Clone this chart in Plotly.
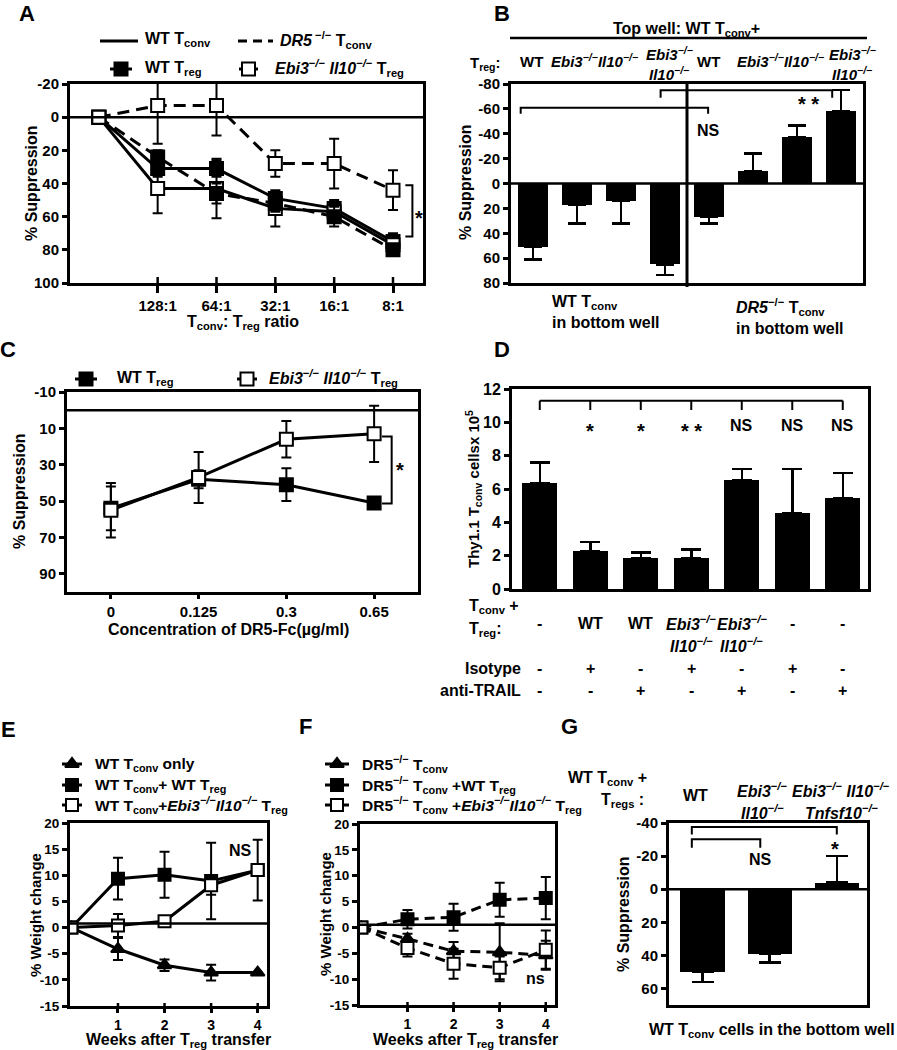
import plotly.graph_objects as go

W, H = 897, 1050
FONT = "Liberation Sans, Arial, Helvetica, sans-serif"
SUP = "<sup>−/−</sup>"
EBI = "<i>Ebi3" + SUP + "</i>"
IL10 = "<i>Il10" + SUP + "</i>"

# ======================= DATA =======================
# Panel A : % suppression vs Tconv:Treg ratio
ratio_labels = ["", "128:1", "64:1", "32:1", "16:1", "8:1"]
a_wtconv_wttreg = [0, 31, 31, 49, 55, 75]
a_wtconv_wttreg_err = [0, 5, 5, 4, 5, 5]
a_wtconv_kotreg = [0, 43, 43, 55, 57, 77]
a_wtconv_kotreg_err = [0, 15, 18, 11, 6, 5]
a_dr5conv_wttreg = [0, 24, 46, 52, 60, 80]
a_dr5conv_wttreg_err = [0, 4, 6, 5, 6, 3]
a_dr5conv_kotreg = [0, -7, -7, 28, 28, 44]
a_dr5conv_kotreg_err = [0, 23, 18, 8, 15, 12]
a_yticks = [-20, 0, 20, 40, 60, 80, 100]

# Panel B : transwell suppression
b_values = [51, 17, 14, 65, 27, -10, -37, -58]
b_err = [10, 15, 18, 8.5, 5, 14, 9.5, 17]
b_yticks = [-80, -60, -40, -20, 0, 20, 40, 60, 80]

# Panel C : DR5-Fc concentration
conc_labels = ["0", "0.125", "0.3", "0.65"]
c_wttreg = [54, 38, 41, 51]
c_wttreg_err = [12, 5, 9, 0]
c_kotreg = [55, 37, 16, 13]
c_kotreg_err = [15, 14, 10, 15.5]
c_yticks = [-10, 10, 30, 50, 70, 90]

# Panel D : Thy1.1 Tconv cell numbers
d_values = [6.35, 2.26, 1.86, 1.86, 6.55, 4.55, 5.45]
d_err = [1.23, 0.57, 0.34, 0.5, 0.64, 2.64, 1.5]
d_treg_line1 = ["-", "WT", "WT", EBI, EBI, "-", "-"]
d_treg_line2 = ["", "", "", IL10, IL10, "", ""]
d_isotype = ["-", "+", "-", "+", "-", "+", "-"]
d_antitrail = ["-", "-", "+", "-", "+", "-", "+"]
d_sig = ["", "*", "*", "**", "NS", "NS", "NS"]
d_yticks = [0, 2, 4, 6, 8, 10, 12]

# Panel E : weight change, WT Tconv
weeks = [0, 1, 2, 3, 4]
week_ticks = [1, 2, 3, 4]
e_conv_only = [0, -4.1, -7.2, -8.6, -8.6]
e_conv_only_err = [0, 2.1, 1.1, 1.5, 0]
e_wttreg = [0, 9.35, 10.1, 8.9, 11]
e_wttreg_err = [0, 4, 4.4, 7.3, 5.8]
e_kotreg = [0, 0.4, 1.2, 8.1, 11]
e_kotreg_err = [0, 2.2, 0.4, 1.8, 0]
ef_yticks = [-15, -10, -5, 0, 5, 10, 15, 20]

# Panel F : weight change, DR5-/- Tconv
f_conv_only = [0, -2.2, -4.6, -4.8, -5.4]
f_conv_only_err = [0, 1.0, 1.8, 5.6, 2.8]
f_wttreg = [0, 1.57, 1.96, 5.35, 5.67]
f_wttreg_err = [0, 1.8, 2.6, 3.3, 4.1]
f_kotreg = [0, -4.0, -7.0, -7.8, -4.3]
f_kotreg_err = [0, 1.6, 2.9, 2.2, 3.7]

# Panel G : transwell suppression with Tnfsf10-/-
g_values = [50, 39, -4]
g_err = [6, 5.3, 16]
g_yticks = [-40, -20, 0, 20, 40, 60]

# ======================= HELPERS =======================
def fx(p):
    return p / W


def fy(p):
    return 1 - p / H


def fnt(size):
    return dict(family=FONT, size=size, color="black", weight="bold")


fig = go.Figure()
annotations = []
shapes = []
T = 16  # default text size


def ann(text, x, y, size=T, xref="paper", yref="paper", xanchor="center",
        yanchor="middle", angle=0, yshift=0, align="center"):
    annotations.append(dict(
        text=text, x=fx(x) if xref == "paper" else x,
        y=fy(y) if yref == "paper" else y, xref=xref, yref=yref,
        showarrow=False, xanchor=xanchor, yanchor=yanchor, textangle=angle,
        yshift=yshift, align=align, font=fnt(size)))


def star(text, x, y, xa, ya, size=20):
    ann(text, x, y, size=size, xref=xa, yref=ya, yshift=-5)


def nz(err):
    return [e if e else None for e in err]


def series(x, y, err, xa, ya, filled, symbol="square", dash="solid", size=13):
    fig.add_trace(go.Scatter(
        x=x, y=y, xaxis=xa, yaxis=ya, mode="lines+markers",
        line=dict(color="black", width=3, dash=dash),
        marker=dict(symbol=symbol, size=size, color="black" if filled else "white",
                    line=dict(color="black", width=2)),
        error_y=dict(type="data", array=nz(err), visible=True, color="black",
                     thickness=2, width=5),
        hoverinfo="skip"))


def bars(vals, errs, xa, ya, width, capw):
    up = [e if v >= 0 else 0 for v, e in zip(vals, errs)]
    dn = [0 if v >= 0 else e for v, e in zip(vals, errs)]
    fig.add_trace(go.Bar(
        x=list(range(len(vals))), y=vals, xaxis=xa, yaxis=ya, width=width,
        marker=dict(color="black", line=dict(width=0)),
        error_y=dict(type="data", symmetric=False, array=up, arrayminus=dn,
                     color="black", thickness=2.5, width=capw),
        hoverinfo="skip"))


def path(xs, ys, xa, ya, width=2, dash="solid"):
    fig.add_trace(go.Scatter(
        x=xs, y=ys, xaxis=xa, yaxis=ya, mode="lines", cliponaxis=False,
        line=dict(color="black", width=width, dash=dash), hoverinfo="skip"))


def vbracket(x, y0, y1, dx, xa, ya):
    path([x - dx, x, x, x - dx], [y0, y0, y1, y1], xa, ya)


def hbracket(x0, x1, y, dy, xa, ya):
    path([x0, x0, x1, x1], [y + dy, y, y, y + dy], xa, ya)


def marker(x, y, filled, symbol="square", size=13):
    fig.add_trace(go.Scatter(
        x=[x], y=[y], xaxis="x8", yaxis="y8", mode="markers", cliponaxis=False,
        marker=dict(symbol=symbol, size=size, color="black" if filled else "white",
                    line=dict(color="black", width=2)), hoverinfo="skip"))


def legend_item(x0, x1, y, text, tx, ty, filled=None, symbol="square",
                dash="solid", size=13, fsize=16):
    path([x0, x1], [y, y], "x8", "y8", width=3, dash=dash)
    if filled is not None:
        marker((x0 + x1) / 2, y, filled, symbol, size)
    ann(text, tx, ty, size=fsize, xanchor="left")


def hline(y, xa, ya, width=2.5):
    shapes.append(dict(type="line", xref=xa + " domain", yref=ya, x0=0, x1=1,
                       y0=y, y1=y, line=dict(color="black", width=width)))


def inner_ticks(vals, xa, ya, frac):
    for v in vals:
        shapes.append(dict(type="line", xref=xa, yref=ya + " domain", x0=v, x1=v,
                           y0=0, y1=frac, line=dict(color="black", width=2.5)))


def axis(domain_px, rng, horizontal, tickvals=None, ticktext=None, size=14,
         ticklen=5, anchor=None, showticks=True):
    if horizontal:
        dom = [fx(domain_px[0]), fx(domain_px[1])]
    else:
        dom = [fy(domain_px[1]), fy(domain_px[0])]
    d = dict(domain=dom, range=rng, showline=True, linewidth=3, linecolor="black",
             mirror=True, showgrid=False, zeroline=False, fixedrange=True,
             tickfont=fnt(size), tickcolor="black", tickwidth=2.5, ticklen=ticklen,
             anchor=anchor)
    if showticks and tickvals is not None:
        d.update(ticks="outside", tickmode="array", tickvals=tickvals,
                 ticktext=ticktext if ticktext is not None else [str(v) for v in tickvals])
    else:
        d.update(ticks="", showticklabels=False)
    return d


# ======================= PANEL A =======================
a_x = list(range(len(ratio_labels)))
series(a_x, a_wtconv_wttreg, a_wtconv_wttreg_err, "x", "y", True)
series(a_x, a_wtconv_kotreg, a_wtconv_kotreg_err, "x", "y", False)
series(a_x, a_dr5conv_wttreg, a_dr5conv_wttreg_err, "x", "y", True, dash="12px,7px")
series(a_x, a_dr5conv_kotreg, a_dr5conv_kotreg_err, "x", "y", False, dash="12px,7px")
hline(0, "x", "y")
inner_ticks(a_x[1:], "x", "y", 6 / 199)
vbracket(5.33, 41, 72, 0.12, "x", "y")
star("*", 5.45, 58, "x", "y")

legend_item(100, 138, 41, "WT T<sub>conv</sub>", 143, 40)
legend_item(238, 273, 41, "<i>DR5</i><sup> −/−</sup> T<sub>conv</sub>", 278, 40, dash="9px,6px")
legend_item(110, 132, 69, "WT T<sub>reg</sub>", 143, 68, filled=True)
legend_item(239, 258, 69, "<i>Ebi3<sup>−/−</sup> Il10<sup>−/−</sup></i> T<sub>reg</sub>", 273, 68, filled=False)
ann("% Suppression", 32, 183, size=16, angle=-90)
ann("T<sub>conv</sub>: T<sub>reg</sub> ratio", 243, 322, size=16)
ann("A", 27, 14, size=22)

# ======================= PANEL B =======================
bars(b_values, b_err, "x2", "y2", 0.7, 9)
hline(0, "x2", "y2")
shapes.append(dict(type="line", xref="x2", yref="y2 domain", x0=3.5, x1=3.5, y0=-0.02,
                   y1=1, line=dict(color="black", width=3)))
hbracket(-0.28, 3.98, -61, 5, "x2", "y2")
hbracket(2.9, 6.8, -75, 6, "x2", "y2")
ann("NS", 3.98, -43, size=16, xref="x2", yref="y2")
star("* *", 6.25, -68, "x2", "y2")
ann("Top well: WT T<sub>conv</sub>+", 686, 29)
shapes.append(dict(type="line", xref="paper", yref="paper", x0=fx(510), x1=fx(867),
                   y0=fy(38), y1=fy(38), line=dict(color="black", width=2.5)))
ann("T<sub>reg</sub>:", 485, 63, size=15)
ann("WT", 531, 62, size=15)
ann(EBI + IL10, 594, 61, size=15)
ann(EBI, 669, 54, size=15)
ann(IL10, 669, 73, size=15)
ann("WT", 708, 62, size=15)
ann(EBI + IL10, 780, 61, size=15)
ann(EBI, 852, 54, size=15)
ann(IL10, 852, 73, size=15)
ann("WT T<sub>conv</sub><br>in bottom well", 550, 312, xanchor="left", align="left")
ann("<i>DR5</i><sup>−/−</sup> T<sub>conv</sub><br>in bottom well", 734, 316, xanchor="left", align="left")
ann("% Suppression", 465, 182, size=16, angle=-90)
ann("B", 502, 13, size=22)

# ======================= PANEL C =======================
c_x = list(range(len(conc_labels)))
series(c_x, c_wttreg, c_wttreg_err, "x3", "y3", True)
series(c_x, c_kotreg, c_kotreg_err, "x3", "y3", False)
hline(0, "x3", "y3")
vbracket(3.2, 14.5, 51.3, 0.11, "x3", "y3")
star("*", 3.3, 30, "x3", "y3")
legend_item(75, 97, 379, "WT T<sub>reg</sub>", 115, 378, filled=True)
legend_item(237, 257, 379, "<i>Ebi3<sup>−/−</sup> Il10<sup>−/−</sup></i> T<sub>reg</sub>", 267, 378, filled=False)
ann("% Suppression", 19, 491, size=16, angle=-90)
ann("Concentration of DR5-Fc(µg/ml)", 228, 629, size=16)
ann("C", 8, 350, size=22)

# ======================= PANEL D =======================
bars(d_values, d_err, "x4", "y4", 0.69, 10)
d_x = list(range(len(d_values)))
d_level, d_tick = 11.3, 0.56
bx, by = [d_x[0], d_x[-1], None], [d_level, d_level, None]
for i in d_x:
    bx += [i, i, None]
    by += [d_level, d_level - d_tick, None]
path(bx, by, "x4", "y4")
for i, s in enumerate(d_sig):
    if s.startswith("*"):
        star(" ".join(s), i, 9.8, "x4", "y4")
    elif s:
        ann(s, i, 9.8, size=16, xref="x4", yref="y4")
ann("T<sub>conv</sub> +", 467, 606, xanchor="left")
ann("T<sub>reg</sub>:", 467, 629, xanchor="left")
for i in d_x:
    ann(d_treg_line1[i], i, 623, xref="x4")
    if d_treg_line2[i]:
        ann(d_treg_line2[i], i, 645, xref="x4")
    ann(d_isotype[i], i, 668, xref="x4")
    ann(d_antitrail[i], i, 690, xref="x4")
ann("Isotype", 523, 668, xanchor="right")
ann("anti-TRAIL", 523, 690, xanchor="right")
ann("Thy1.1 T<sub>conv</sub> cellsx 10<sup>5</sup>", 473, 489, size=15, angle=-90)
ann("D", 502, 350, size=22)

# ======================= PANEL E =======================
series(weeks, e_conv_only, e_conv_only_err, "x5", "y5", True, symbol="triangle-up", size=12)
series(weeks, e_wttreg, e_wttreg_err, "x5", "y5", True, size=12)
series(weeks, e_kotreg, e_kotreg_err, "x5", "y5", False, size=12)
hline(0.8, "x5", "y5")
inner_ticks(week_ticks, "x5", "y5", 3 / 183)
vbracket(4.48, 12.8, -6.9, 0.22, "x5", "y5")
star("*", 4.63, 2.4, "x5", "y5")
ann("NS", 3.64, 14.8, size=16, xref="x5", yref="y5")
legend_item(62, 82, 764, "WT T<sub>conv</sub> only", 93, 764, filled=True,
            symbol="triangle-up", size=12, fsize=15.5)
legend_item(62, 82, 785, "WT T<sub>conv</sub>+ WT T<sub>reg</sub>", 93, 785, filled=True,
            size=12, fsize=15.5)
legend_item(62, 82, 805, "WT T<sub>conv</sub>+<i>Ebi3<sup>−/−</sup>Il10<sup>−/−</sup></i> T<sub>reg</sub>",
            93, 805, filled=False, size=12, fsize=15.5)
ann("% Weight change", 35, 915, size=15, angle=-90)
ann("Weeks after T<sub>reg</sub> transfer", 178, 1040, size=16)
ann("E", 8, 729, size=22)

# ======================= PANEL F =======================
series(weeks, f_conv_only, f_conv_only_err, "x6", "y6", True, symbol="triangle-up",
       dash="10px,6px", size=12)
series(weeks, f_wttreg, f_wttreg_err, "x6", "y6", True, dash="10px,6px", size=12)
series(weeks, f_kotreg, f_kotreg_err, "x6", "y6", False, dash="10px,6px", size=12)
hline(0.5, "x6", "y6")
inner_ticks(week_ticks, "x6", "y6", 3 / 181)
vbracket(4.42, 7, -4.4, 0.15, "x6", "y6")
star("*", 4.57, 2.0, "x6", "y6")
ann("ns", 3.77, -9.8, size=16, xref="x6", yref="y6")
legend_item(325, 349, 764, "DR5<sup>−/−</sup> T<sub>conv</sub>", 360, 764, filled=True,
            symbol="triangle-up", size=12, fsize=15.5)
legend_item(325, 349, 785, "DR5<sup>−/−</sup> T<sub>conv</sub> +WT T<sub>reg</sub>", 360, 785,
            filled=True, size=12, fsize=15.5)
legend_item(325, 349, 805,
            "DR5<sup>−/−</sup> T<sub>conv</sub> +<i>Ebi3<sup>−/−</sup>Il10<sup>−/−</sup></i> T<sub>reg</sub>",
            360, 805, filled=False, size=12, fsize=15.5)
ann("% Weight change", 325, 914, size=15, angle=-90)
ann("Weeks after T<sub>reg</sub> transfer", 466, 1040, size=16)
ann("F", 305, 726, size=22)

# ======================= PANEL G =======================
bars(g_values, g_err, "x7", "y7", 0.66, 11)
hline(0, "x7", "y7")
hbracket(-0.16, 2.0, -37.6, 4.6, "x7", "y7")
hbracket(-0.16, 0.86, -30.2, 5.2, "x7", "y7")
ann("NS", 0.87, -18.2, size=16, xref="x7", yref="y7")
star("*", 1.97, -27.3, "x7", "y7")
ann("WT T<sub>conv</sub> +", 566, 778, xanchor="left")
ann("T<sub>regs</sub> :", 622, 800)
ann("WT", 695, 795)
ann(EBI, 762, 790)
ann(IL10, 762, 812)
ann("<i>Ebi3<sup>−/−</sup> Il10<sup>−/−</sup></i>", 841, 790)
ann("<i>Tnfsf10<sup>−/−</sup></i>", 842, 812)
ann("% Suppression", 623, 914, size=16, angle=-90)
ann("WT T<sub>conv</sub> cells in the bottom well", 772, 1030, size=16)
ann("G", 569, 726, size=22)

# ======================= LAYOUT =======================
layout = dict(
    width=W, height=H, margin=dict(l=0, r=0, t=0, b=0), template="none",
    paper_bgcolor="white", plot_bgcolor="rgba(0,0,0,0)", showlegend=False,
    hovermode=False, font=fnt(14), bargap=0,
    xaxis=axis((70, 423), [-0.49, 5.51], True, a_x[1:], ratio_labels[1:], 15, 7, "y"),
    yaxis=axis((84, 283), [100, -20], False, a_yticks, None, 15, 5, "x"),
    xaxis2=axis((511, 863), [-0.5, 7.5], True, anchor="y2", showticks=False),
    yaxis2=axis((84, 283), [80, -80], False, b_yticks, None, 15, 5, "x2"),
    xaxis3=axis((67, 418), [-0.5, 3.5], True, c_x, conc_labels, 15, 4, "y3"),
    yaxis3=axis((392, 592), [100, -10], False, c_yticks, None, 15, 5, "x3"),
    xaxis4=axis((512, 868), [-0.55, 6.5], True, anchor="y4", showticks=False),
    yaxis4=axis((389, 589), [0, 12], False, d_yticks, None, 16, 5, "x4"),
    xaxis5=axis((70, 267), [-0.03, 4.2], True, week_ticks, None, 14, 4, "y5"),
    yaxis5=axis((823, 1006), [-15, 20], False, ef_yticks, None, 13.5, 5, "x5"),
    xaxis6=axis((360, 555), [-0.03, 4.2], True, week_ticks, None, 14, 4, "y6"),
    yaxis6=axis((824, 1005), [-15, 20], False, ef_yticks, None, 13.5, 5, "x6"),
    xaxis7=axis((669, 867), [-0.5, 2.45], True, anchor="y7", showticks=False),
    yaxis7=axis((823, 1005), [70, -40], False, g_yticks, None, 15, 5, "x7"),
    xaxis8=dict(domain=[0, 1], range=[0, W], visible=False, fixedrange=True, anchor="y8"),
    yaxis8=dict(domain=[0, 1], range=[H, 0], visible=False, fixedrange=True, anchor="x8"),
    annotations=annotations, shapes=shapes,
)
fig.update_layout(**layout)
fig.write_html("out.html", post_script="document.body.style.margin='0';",
               config={"displayModeBar": False})
